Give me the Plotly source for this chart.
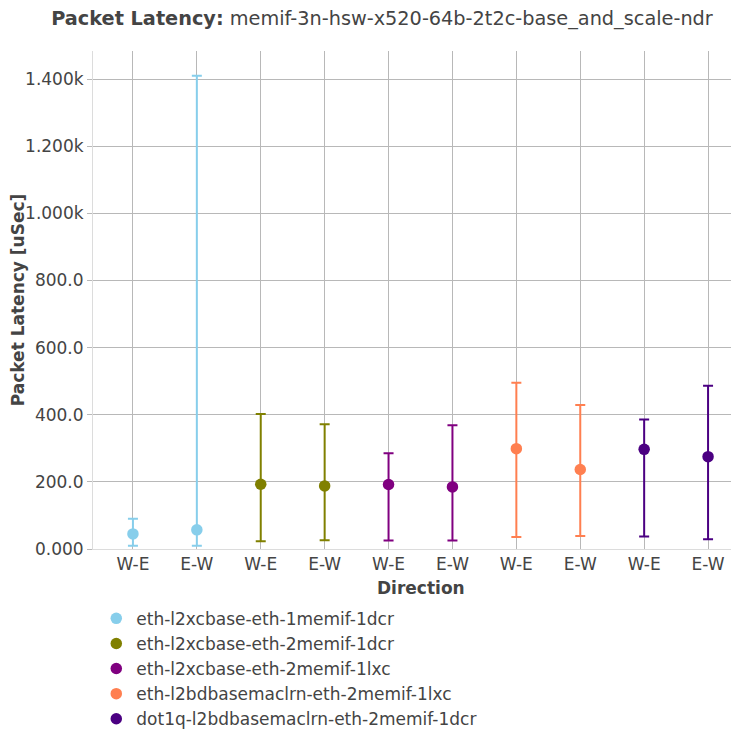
import plotly.graph_objects as go

series_names = [
    "eth-l2xcbase-eth-1memif-1dcr",
    "eth-l2xcbase-eth-2memif-1dcr",
    "eth-l2xcbase-eth-2memif-1lxc",
    "eth-l2bdbasemaclrn-eth-2memif-1lxc",
    "dot1q-l2bdbasemaclrn-eth-2memif-1dcr",
]
series_colors = ["#87CEEB", "#808000", "#800080", "#FF7F50", "#4B0082"]
directions = ["W-E", "E-W"]

# [W-E, E-W] per series
median_vals = [[45, 57], [193, 188], [192, 185], [299, 237], [297, 275]]
max_vals = [[90, 1410], [402, 372], [285, 369], [495, 429], [386, 486]]
min_vals = [[10, 10], [23, 26], [25, 25], [36, 39], [37, 29]]

FONT = "DejaVu Sans"
W, H = 748, 726
L, R, T = 85, 8, 43
PLOT_BOTTOM = 541
B = H - PLOT_BOTTOM
PH = PLOT_BOTTOM - T

fig = go.Figure()
for i, name in enumerate(series_names):
    xs = [2 * i + j for j in range(2)]
    med = median_vals[i]
    fig.add_trace(go.Scatter(
        x=xs, y=med, mode="markers", name=name,
        marker=dict(color=series_colors[i], size=11.5),
        error_y=dict(
            type="data", symmetric=False,
            array=[max_vals[i][j] - med[j] for j in range(2)],
            arrayminus=[med[j] - min_vals[i][j] for j in range(2)],
            color=series_colors[i], thickness=2, width=5,
        ),
    ))

tickvals = list(range(2 * len(series_names)))
ticktext = [directions[k % 2] for k in tickvals]

fig.update_layout(
    width=W, height=H,
    margin=dict(l=L, r=R, t=T, b=B, pad=0, autoexpand=False),
    paper_bgcolor="white", plot_bgcolor="white",
    font=dict(family=FONT, size=17, color="#444"),
    title=dict(
        text="<b>Packet Latency:</b> memif-3n-hsw-x520-64b-2t2c-base_and_scale-ndr",
        x=0.5, xanchor="center", y=1 - 10 / H, yanchor="middle",
        font=dict(family=FONT, size=19.3, color="#444"),
    ),
    xaxis=dict(
        tickmode="array", tickvals=tickvals, ticktext=ticktext,
        range=[-0.625, 9.625], showgrid=True, gridcolor="#b8b8b8",
        zeroline=False, showline=True, linecolor="#dcdcdc", linewidth=1,
        ticks="", tickfont=dict(size=17), automargin=False,
    ),
    yaxis=dict(
        range=[0, 1483.6], dtick=200, tickformat=".4s",
        showgrid=True, gridcolor="#b8b8b8", zeroline=False,
        showline=True, linecolor="#dcdcdc", linewidth=1,
        ticks="outside", ticklen=5, tickcolor="#b8b8b8",
        title=dict(text="<b>Packet Latency [uSec]</b>", font=dict(size=17), standoff=18),
        tickfont=dict(size=17), automargin=False,
    ),
    showlegend=True,
    legend=dict(
        orientation="v", x=0.005, xanchor="left", y=-0.104, yanchor="top",
        font=dict(size=17), bgcolor="rgba(0,0,0,0)",
    ),
    annotations=[dict(
        text="<b>Direction</b>", xref="paper", yref="paper",
        x=0.5, y=(PLOT_BOTTOM - 580) / PH, xanchor="center", yanchor="middle",
        showarrow=False, font=dict(family=FONT, size=17, color="#444"),
    )],
)

fig.write_html("out.html")
